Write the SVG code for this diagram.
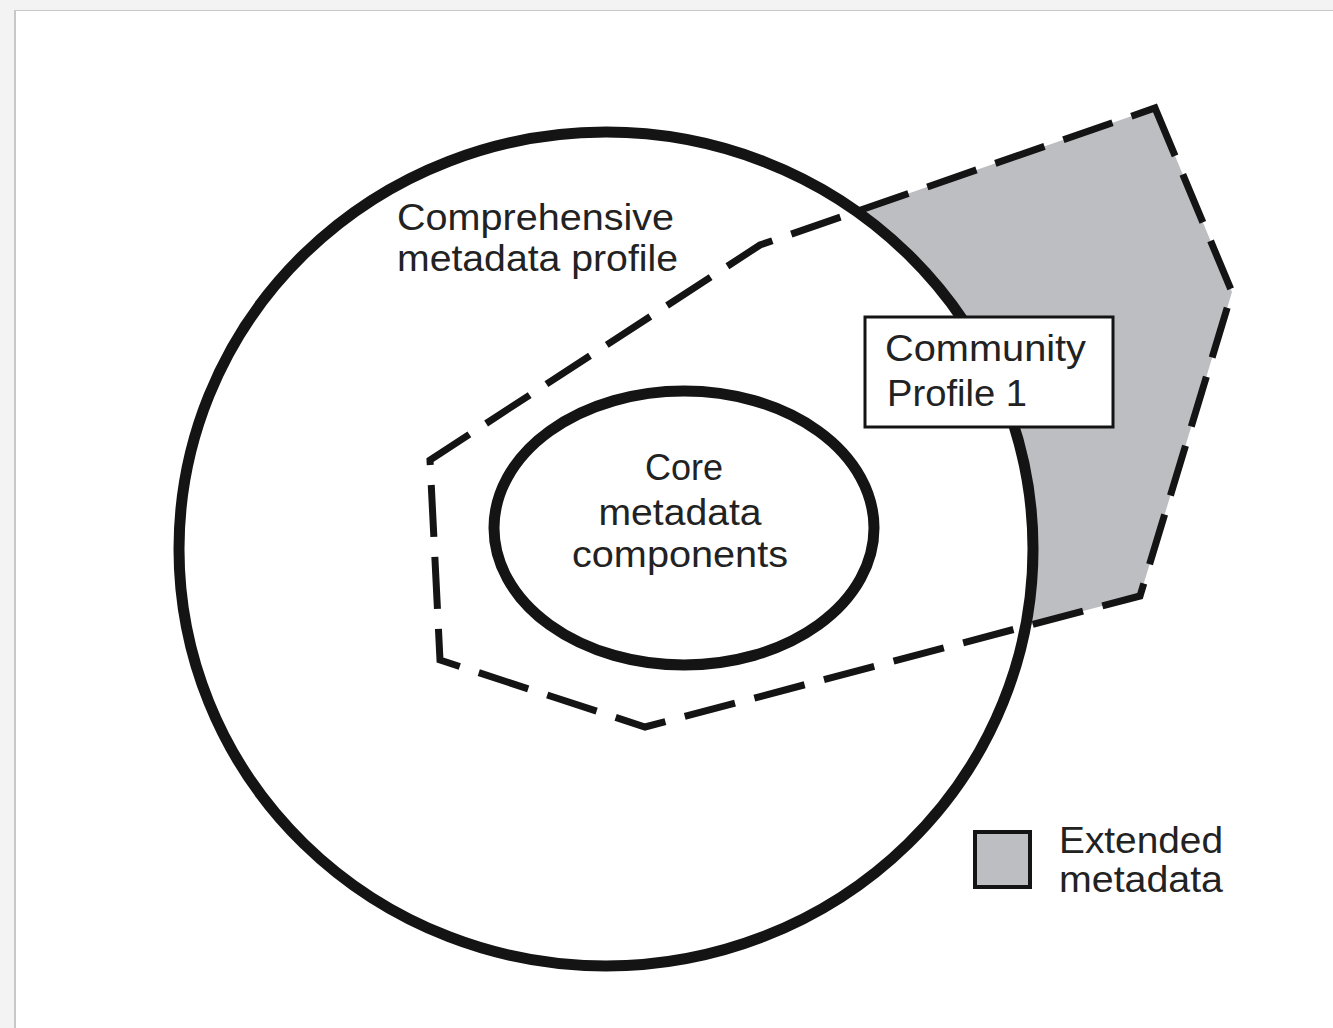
<svg xmlns="http://www.w3.org/2000/svg" width="1333" height="1028" viewBox="0 0 1333 1028">
<style>
.lbl{font-family:"Liberation Sans",Arial,sans-serif;font-size:36px;fill:#222}
.thick{fill:none;stroke:#141414;stroke-width:11}
.dash{fill:none;stroke:#141414;stroke-width:7;stroke-dasharray:52 20;stroke-linejoin:miter}
</style>
<defs>
<mask id="outside">
<rect x="0" y="0" width="1333" height="1028" fill="#fff"/>
<ellipse cx="606" cy="549" rx="427" ry="417" fill="#000"/>
</mask>
</defs>
<rect x="0" y="0" width="1333" height="1028" fill="#f3f3f3"/>
<rect x="14" y="10" width="1319" height="1018" fill="#c8c8c8"/>
<rect x="16" y="11" width="1317" height="1017" fill="#fff"/>
<g id="extended-area">
<polygon points="1155,108 1232,292 1140,596 645,727 440,660 430,460 760,245" fill="#bdbec2" mask="url(#outside)"/>
</g>
<g id="comprehensive-profile">
<ellipse class="thick" cx="606" cy="549" rx="427" ry="417"/>
<text class="lbl" x="397" y="230" textLength="277" lengthAdjust="spacingAndGlyphs">Comprehensive</text>
<text class="lbl" x="397" y="271" textLength="281" lengthAdjust="spacingAndGlyphs">metadata profile</text>
</g>
<g id="community-profile-boundary">
<polygon class="dash" points="1155,108 1232,292 1140,596 645,727 440,660 430,460 760,245"/>
</g>
<g id="core">
<ellipse class="thick" cx="684" cy="528" rx="190" ry="137"/>
<text class="lbl" x="684" y="480" text-anchor="middle">Core</text>
<text class="lbl" x="680" y="525" text-anchor="middle" textLength="163" lengthAdjust="spacingAndGlyphs">metadata</text>
<text class="lbl" x="680" y="567" text-anchor="middle" textLength="216" lengthAdjust="spacingAndGlyphs">components</text>
</g>
<g id="community-profile-label">
<rect x="865" y="317" width="248" height="110" fill="#fff" stroke="#141414" stroke-width="3"/>
<text class="lbl" x="885" y="361" textLength="201" lengthAdjust="spacingAndGlyphs">Community</text>
<text class="lbl" x="887" y="406" textLength="140" lengthAdjust="spacingAndGlyphs">Profile 1</text>
</g>
<g id="legend">
<rect x="975" y="832" width="55" height="55" fill="#bdbec2" stroke="#141414" stroke-width="4"/>
<text class="lbl" x="1059" y="853" textLength="164" lengthAdjust="spacingAndGlyphs">Extended</text>
<text class="lbl" x="1059" y="892" textLength="164" lengthAdjust="spacingAndGlyphs">metadata</text>
</g>
</svg>
